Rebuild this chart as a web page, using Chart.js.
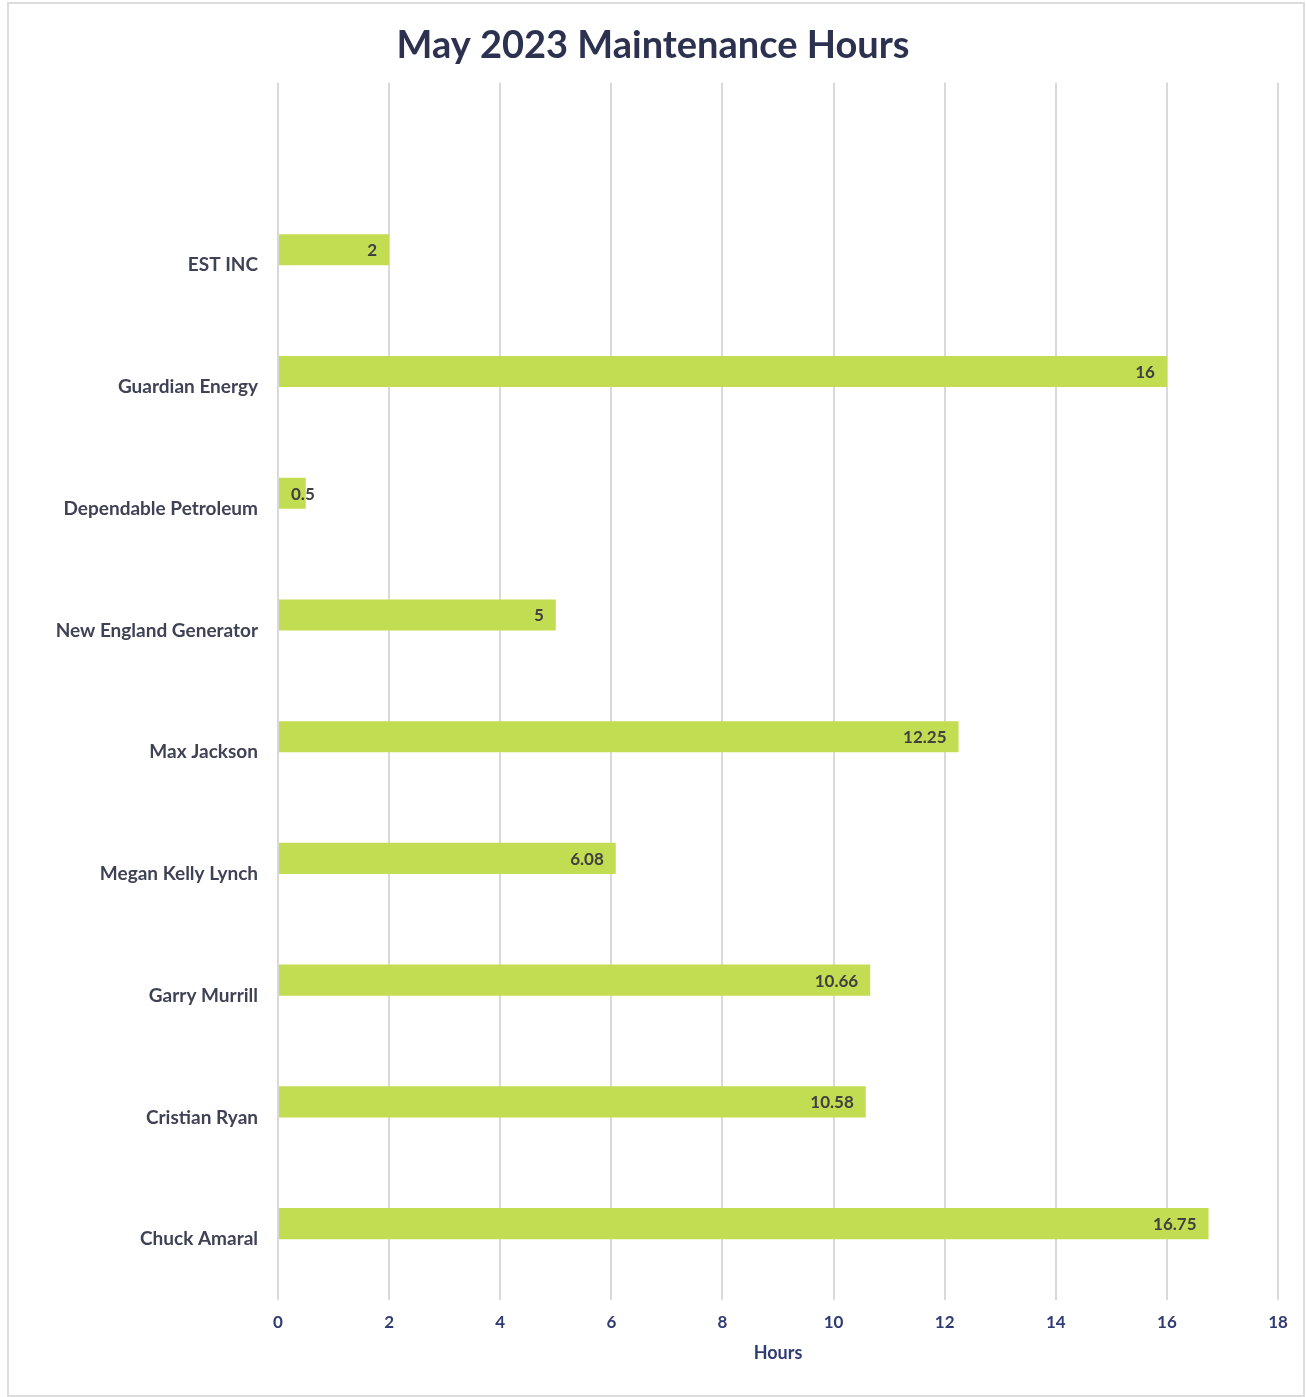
<!DOCTYPE html>
<html>
<head>
<meta charset="utf-8">
<script src="https://cdn.jsdelivr.net/npm/chart.js@4/dist/chart.umd.min.js"></script>
<style>
  html, body { margin: 0; padding: 0; background: #ffffff; }
  #wrap { position: relative; width: 1306px; height: 1397px; }
  #frame { position: absolute; left: 7px; top: 2px; width: 1294px; height: 1391px; border: 2px solid #dcdcdc; pointer-events: none; }
  canvas { display: block; }
</style>
</head>
<body>
<div id="wrap">
  <canvas id="c" width="1306" height="1397"></canvas>
  <div id="frame"></div>
</div>
<script>
const chartTitle = 'May 2023 Maintenance Hours';
const axisTitle = 'Hours';
const categories = ['', 'EST INC', 'Guardian Energy', 'Dependable Petroleum', 'New England Generator', 'Max Jackson', 'Megan Kelly Lynch', 'Garry Murrill', 'Cristian Ryan', 'Chuck Amaral'];
const hours = [null, 2, 16, 0.5, 5, 12.25, 6.08, 10.66, 10.58, 16.75];
const emptySeries = [null, null, null, null, null, null, null, null, null, null];
const xMin = 0, xMax = 18, xStep = 2;

const FONT = 'Lato, "Open Sans", sans-serif';

const valueLabels = {
  id: 'valueLabels',
  afterDatasetsDraw(chart) {
    const ctx = chart.ctx;
    const meta = chart.getDatasetMeta(0);
    ctx.save();
    ctx.font = 'bold 17px ' + FONT;
    ctx.fillStyle = '#404040';
    ctx.textBaseline = 'middle';
    ctx.textAlign = 'left';
    meta.data.forEach((bar, i) => {
      const v = hours[i];
      if (v === null || v === undefined) return;
      const txt = String(v);
      const w = ctx.measureText(txt).width;
      let x = bar.x - 12 - w;
      if (x < bar.base + 12) x = bar.base + 12;
      ctx.fillText(txt, x, bar.y + 1);
    });
    ctx.restore();
  }
};

new Chart(document.getElementById('c'), {
  type: 'bar',
  data: {
    labels: categories,
    datasets: [
      { data: hours, backgroundColor: '#c3dd52', borderWidth: 0, categoryPercentage: 0.51, barPercentage: 1.0 },
      { data: emptySeries, backgroundColor: '#c3dd52', borderWidth: 0, categoryPercentage: 0.51, barPercentage: 1.0 }
    ]
  },
  options: {
    indexAxis: 'y',
    responsive: false,
    animation: false,
    devicePixelRatio: 1,
    layout: { padding: { left: 28, right: 28, top: 0, bottom: 0 } },
    plugins: {
      legend: { display: false },
      tooltip: { enabled: false },
      title: {
        display: true,
        text: chartTitle,
        color: '#2c3150',
        font: { family: FONT, size: 38, weight: 'bold' },
        padding: { top: 23, bottom: 14 }
      }
    },
    scales: {
      x: {
        min: xMin, max: xMax,
        ticks: { stepSize: xStep, color: '#2f3b73', font: { family: FONT, size: 17, weight: 'bold' }, padding: 12 },
        grid: { color: '#d9d9d9', lineWidth: 2, drawTicks: false },
        border: { display: false },
        title: { display: true, text: axisTitle, color: '#2f3b73', font: { family: FONT, size: 18, weight: 'bold' }, padding: { top: 0, bottom: 33 } },
        afterFit(scale) { scale.height = 97; }
      },
      y: {
        ticks: { color: '#3f4255', font: { family: FONT, size: 19, weight: 'bold' }, padding: 20 },
        grid: { display: false, drawTicks: false },
        border: { display: false },
        afterFit(scale) { scale.width = 250; }
      }
    }
  },
  plugins: [valueLabels]
});
</script>
</body>
</html>
